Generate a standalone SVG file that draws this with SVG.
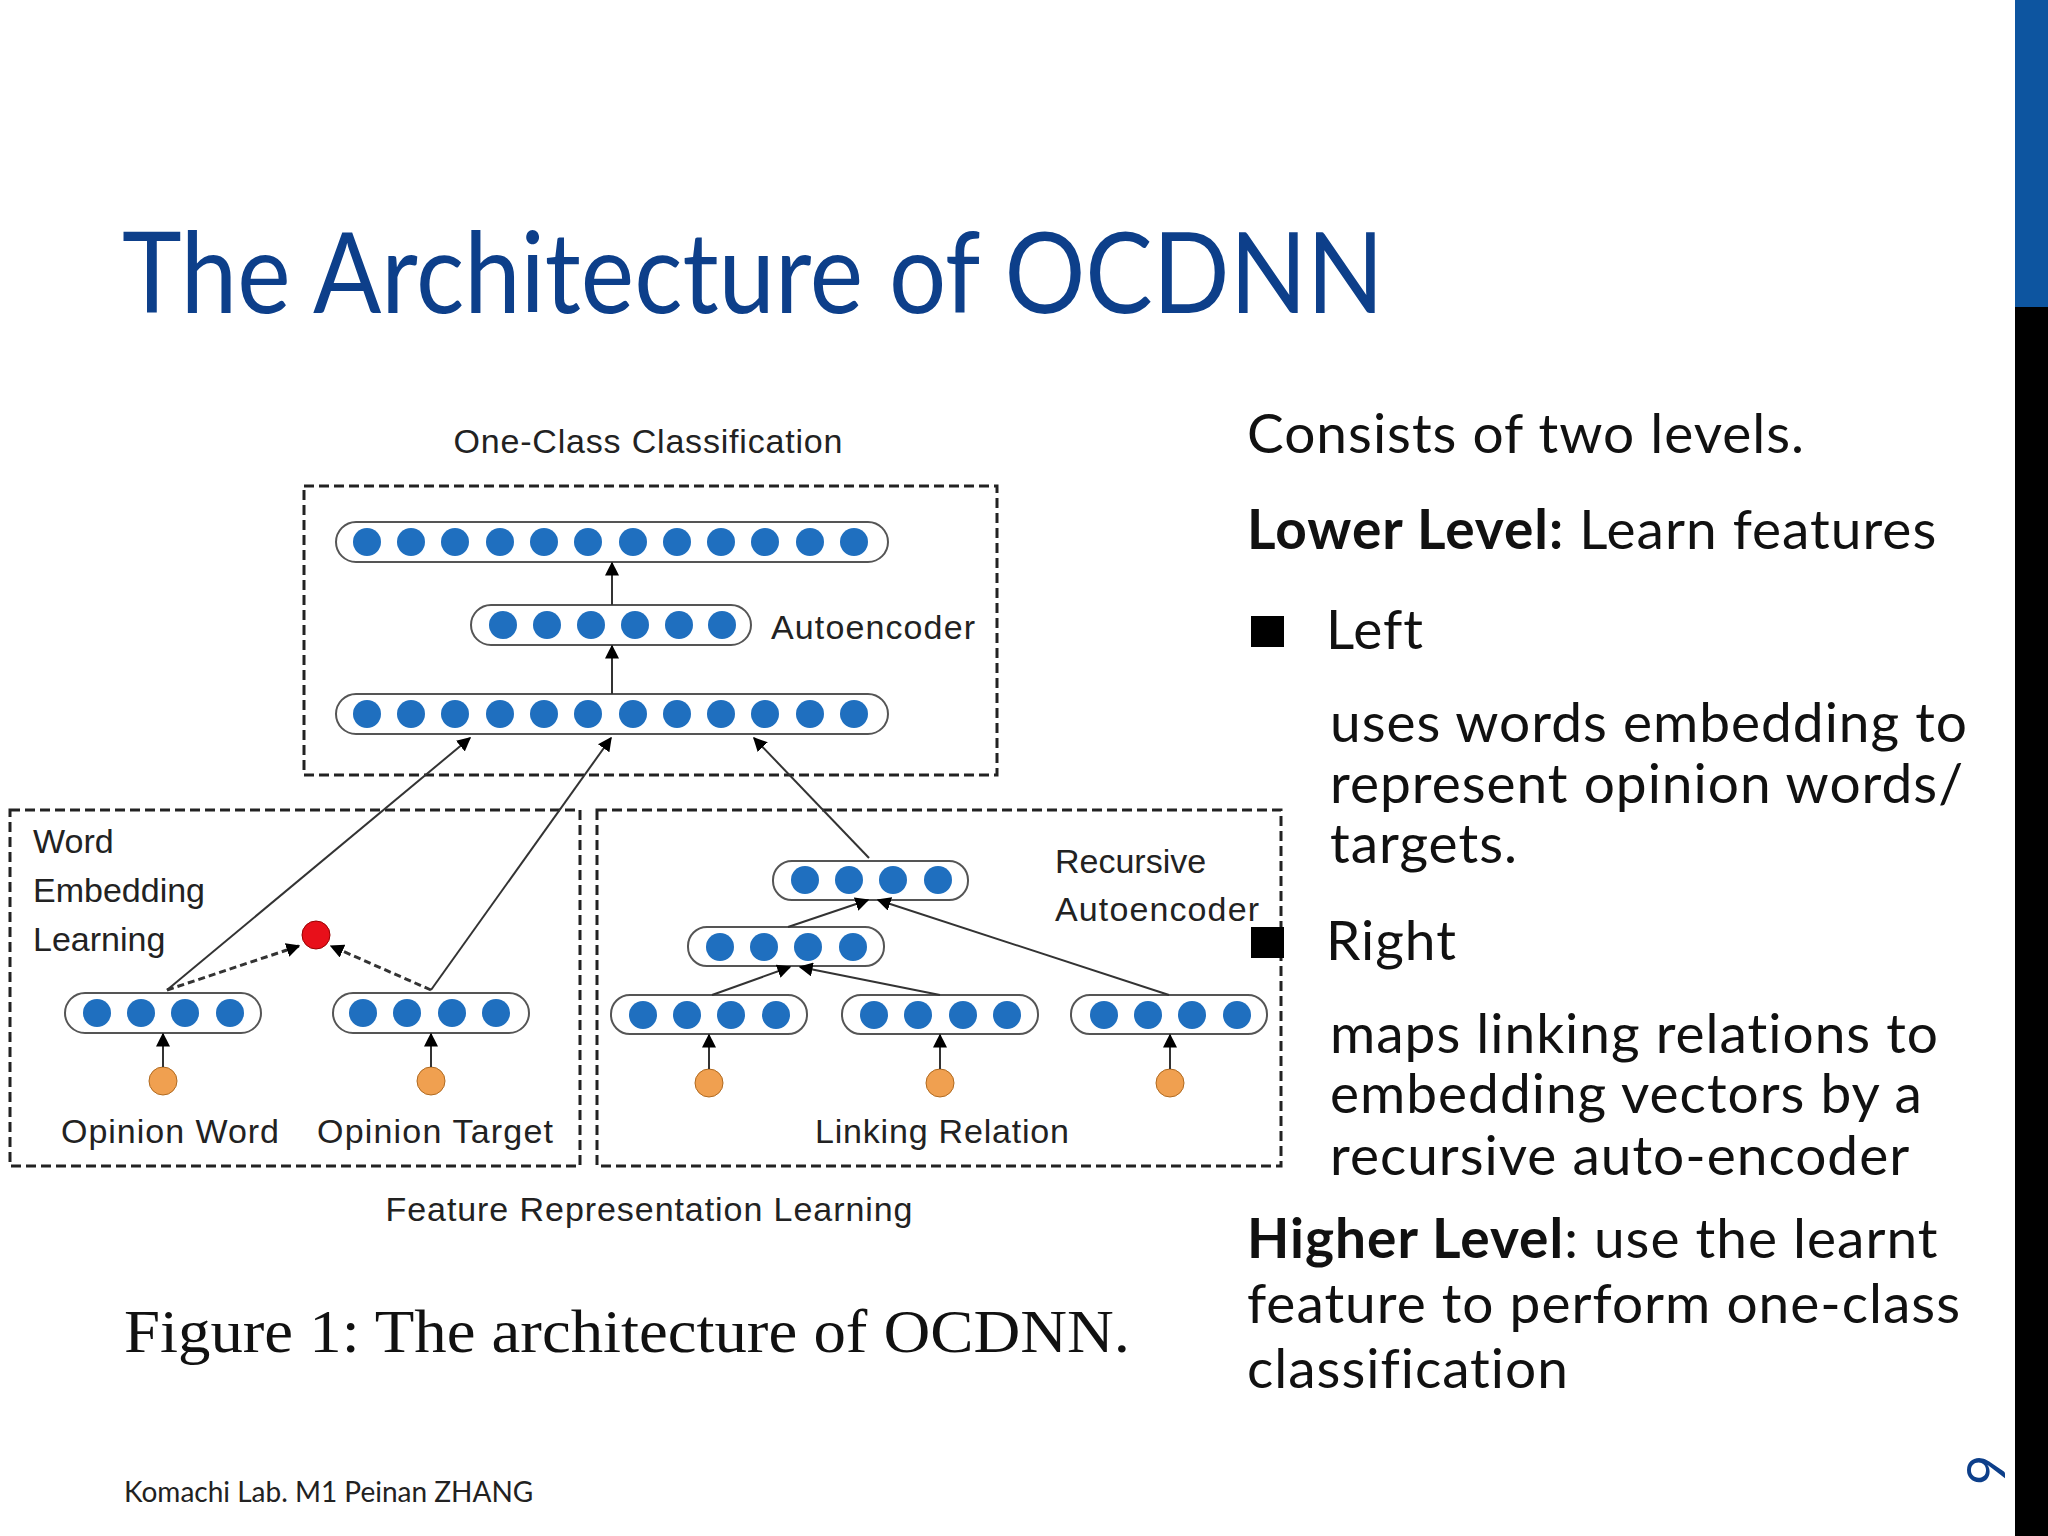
<svg xmlns="http://www.w3.org/2000/svg" width="2048" height="1536" viewBox="0 0 2048 1536">
<defs>
<marker id="ahb" viewBox="0 0 10 10" refX="9" refY="5" markerWidth="14" markerHeight="14" orient="auto" markerUnits="userSpaceOnUse"><path d="M0,0 L10,5 L0,10 z" fill="#000"/></marker>
</defs>
<style>
.lbl{font-family:"Liberation Sans",Arial,sans-serif;font-size:34px;fill:#222}
.box{fill:none;stroke:#222;stroke-width:3;stroke-dasharray:10 5}
.pill{fill:#fff;stroke:#555;stroke-width:2}
.n{fill:#1f6fbf}
.o{fill:#f0a050;stroke:#b06a20;stroke-width:1}
.ln{stroke:#333;stroke-width:2;fill:none;marker-end:url(#ahb)}
.dl{stroke:#333;stroke-width:3;fill:none;stroke-dasharray:7 4;marker-end:url(#ahb)}
.tx{font-family:Lato,"Open Sans",sans-serif;font-size:55px;letter-spacing:1px;fill:#111}
</style>
<rect width="2048" height="1536" fill="#fff"/>
<rect x="2015" y="0" width="33" height="307" fill="#0d55a0"/>
<rect x="2015" y="307" width="33" height="1229" fill="#000"/>
<text x="122" y="313" font-family="Lato,'Open Sans',sans-serif" font-size="112" fill="#0d3f8a" textLength="1262" lengthAdjust="spacingAndGlyphs">The Architecture of OCDNN</text>

<text class="lbl" x="648" y="453" text-anchor="middle" textLength="389">One-Class Classification</text>
<g id="top-box"><rect class="box" x="304" y="486" width="693" height="289"/></g>
<g id="top-layer"><rect class="pill" x="336" y="522" width="552" height="40" rx="20"/>
<g class="n"><circle cx="367" cy="542" r="14"/><circle cx="411" cy="542" r="14"/><circle cx="455" cy="542" r="14"/><circle cx="500" cy="542" r="14"/><circle cx="544" cy="542" r="14"/><circle cx="588" cy="542" r="14"/><circle cx="633" cy="542" r="14"/><circle cx="677" cy="542" r="14"/><circle cx="721" cy="542" r="14"/><circle cx="765" cy="542" r="14"/><circle cx="810" cy="542" r="14"/><circle cx="854" cy="542" r="14"/></g></g>
<g id="mid-layer"><rect class="pill" x="471" y="605" width="280" height="40" rx="20"/>
<g class="n"><circle cx="503" cy="625" r="14"/><circle cx="547" cy="625" r="14"/><circle cx="591" cy="625" r="14"/><circle cx="635" cy="625" r="14"/><circle cx="679" cy="625" r="14"/><circle cx="722" cy="625" r="14"/></g>
<text class="lbl" x="771" y="639" textLength="204">Autoencoder</text></g>
<g id="bot-layer"><rect class="pill" x="336" y="694" width="552" height="40" rx="20"/>
<g class="n"><circle cx="367" cy="714" r="14"/><circle cx="411" cy="714" r="14"/><circle cx="455" cy="714" r="14"/><circle cx="500" cy="714" r="14"/><circle cx="544" cy="714" r="14"/><circle cx="588" cy="714" r="14"/><circle cx="633" cy="714" r="14"/><circle cx="677" cy="714" r="14"/><circle cx="721" cy="714" r="14"/><circle cx="765" cy="714" r="14"/><circle cx="810" cy="714" r="14"/><circle cx="854" cy="714" r="14"/></g></g>

<g id="left-box"><rect class="box" x="10" y="810" width="570" height="356"/>
<text class="lbl" x="33" y="853">Word</text><text class="lbl" x="33" y="902">Embedding</text><text class="lbl" x="33" y="951">Learning</text>
<text class="lbl" x="170" y="1143" text-anchor="middle" textLength="218">Opinion Word</text><text class="lbl" x="435" y="1143" text-anchor="middle" textLength="236">Opinion Target</text></g>
<g id="ow"><rect class="pill" x="65" y="993" width="196" height="40" rx="20"/><g class="n"><circle cx="97" cy="1013" r="14"/><circle cx="141" cy="1013" r="14"/><circle cx="185" cy="1013" r="14"/><circle cx="230" cy="1013" r="14"/></g><circle class="o" cx="163" cy="1081" r="14"/></g>
<g id="ot"><rect class="pill" x="333" y="993" width="196" height="40" rx="20"/><g class="n"><circle cx="363" cy="1013" r="14"/><circle cx="407" cy="1013" r="14"/><circle cx="452" cy="1013" r="14"/><circle cx="496" cy="1013" r="14"/></g><circle class="o" cx="431" cy="1081" r="14"/></g>
<g id="red"><circle cx="316" cy="935" r="14" fill="#e8101a" stroke="#900" stroke-width="1"/></g>

<g id="right-box"><rect class="box" x="597" y="810" width="684" height="356" stroke="#444"/>
<text class="lbl" x="1055" y="873">Recursive</text><text class="lbl" x="1055" y="921" textLength="204">Autoencoder</text>
<text class="lbl" x="942" y="1143" text-anchor="middle" textLength="254">Linking Relation</text></g>
<g id="r-top"><rect class="pill" x="773" y="861" width="195" height="39" rx="19"/><g class="n"><circle cx="805" cy="880" r="14"/><circle cx="849" cy="880" r="14"/><circle cx="893" cy="880" r="14"/><circle cx="938" cy="880" r="14"/></g></g>
<g id="r-mid"><rect class="pill" x="688" y="927" width="196" height="39" rx="19"/><g class="n"><circle cx="720" cy="947" r="14"/><circle cx="764" cy="947" r="14"/><circle cx="808" cy="947" r="14"/><circle cx="853" cy="947" r="14"/></g></g>
<g id="r1"><rect class="pill" x="611" y="995" width="196" height="39" rx="19"/><g class="n"><circle cx="643" cy="1015" r="14"/><circle cx="687" cy="1015" r="14"/><circle cx="731" cy="1015" r="14"/><circle cx="776" cy="1015" r="14"/></g><circle class="o" cx="709" cy="1083" r="14"/></g>
<g id="r2"><rect class="pill" x="842" y="995" width="196" height="39" rx="19"/><g class="n"><circle cx="874" cy="1015" r="14"/><circle cx="918" cy="1015" r="14"/><circle cx="963" cy="1015" r="14"/><circle cx="1007" cy="1015" r="14"/></g><circle class="o" cx="940" cy="1083" r="14"/></g>
<g id="r3"><rect class="pill" x="1071" y="995" width="196" height="39" rx="19"/><g class="n"><circle cx="1104" cy="1015" r="14"/><circle cx="1148" cy="1015" r="14"/><circle cx="1192" cy="1015" r="14"/><circle cx="1237" cy="1015" r="14"/></g><circle class="o" cx="1170" cy="1083" r="14"/></g>

<g id="connectors">
<line class="ln" x1="612" y1="605" x2="612" y2="563"/>
<line class="ln" x1="612" y1="694" x2="612" y2="646"/>
<line class="ln" x1="167" y1="990" x2="470" y2="738"/>
<line class="ln" x1="431" y1="990" x2="611" y2="738"/>
<line class="ln" x1="869" y1="858" x2="754" y2="738"/>
<line class="dl" x1="167" y1="990" x2="299" y2="946"/>
<line class="dl" x1="431" y1="990" x2="331" y2="946"/>
<line class="ln" x1="163" y1="1067" x2="163" y2="1034"/>
<line class="ln" x1="431" y1="1067" x2="431" y2="1034"/>
<line class="ln" x1="709" y1="1069" x2="709" y2="1035"/>
<line class="ln" x1="940" y1="1069" x2="940" y2="1035"/>
<line class="ln" x1="1170" y1="1069" x2="1170" y2="1035"/>
<line class="ln" x1="712" y1="995" x2="790" y2="967"/>
<line class="ln" x1="940" y1="995" x2="800" y2="967"/>
<line class="ln" x1="788" y1="927" x2="868" y2="900"/>
<line class="ln" x1="1169" y1="995" x2="878" y2="900"/>
</g>
<text class="lbl" x="649" y="1221" text-anchor="middle" textLength="527">Feature Representation Learning</text>
<text x="124" y="1352" font-family="'Liberation Serif','Times New Roman',serif" font-size="62" fill="#111" textLength="1006" lengthAdjust="spacingAndGlyphs">Figure 1: The architecture of OCDNN.</text>

<g id="bullets">
<text class="tx" x="1247" y="453">Consists of two levels.</text>
<text class="tx" x="1247" y="549"><tspan font-weight="bold">Lower Level:</tspan> Learn features</text>
<rect x="1251" y="616" width="33" height="31" fill="#000"/>
<text class="tx" x="1326" y="649">Left</text>
<text class="tx" x="1330" y="742">uses words embedding to</text>
<text class="tx" x="1330" y="803">represent opinion words/</text>
<text class="tx" x="1330" y="863">targets.</text>
<rect x="1251" y="927" width="33" height="31" fill="#000"/>
<text class="tx" x="1326" y="960">Right</text>
<text class="tx" x="1330" y="1053">maps linking relations to</text>
<text class="tx" x="1330" y="1113">embedding vectors by a</text>
<text class="tx" x="1330" y="1175">recursive auto-encoder</text>
<text class="tx" x="1247" y="1258"><tspan font-weight="bold">Higher Level</tspan>: use the learnt</text>
<text class="tx" x="1247" y="1323">feature to perform one-class</text>
<text class="tx" x="1247" y="1388">classification</text>
</g>
<text x="124" y="1502" font-family="Lato,'Open Sans',sans-serif" font-size="28" fill="#222">Komachi Lab. M1 Peinan ZHANG</text>
<text x="0" y="0" transform="translate(2005,1470) rotate(-90)" font-family="Lato,sans-serif" font-size="52" fill="#0d3f8a" text-anchor="middle">9</text>
</svg>
